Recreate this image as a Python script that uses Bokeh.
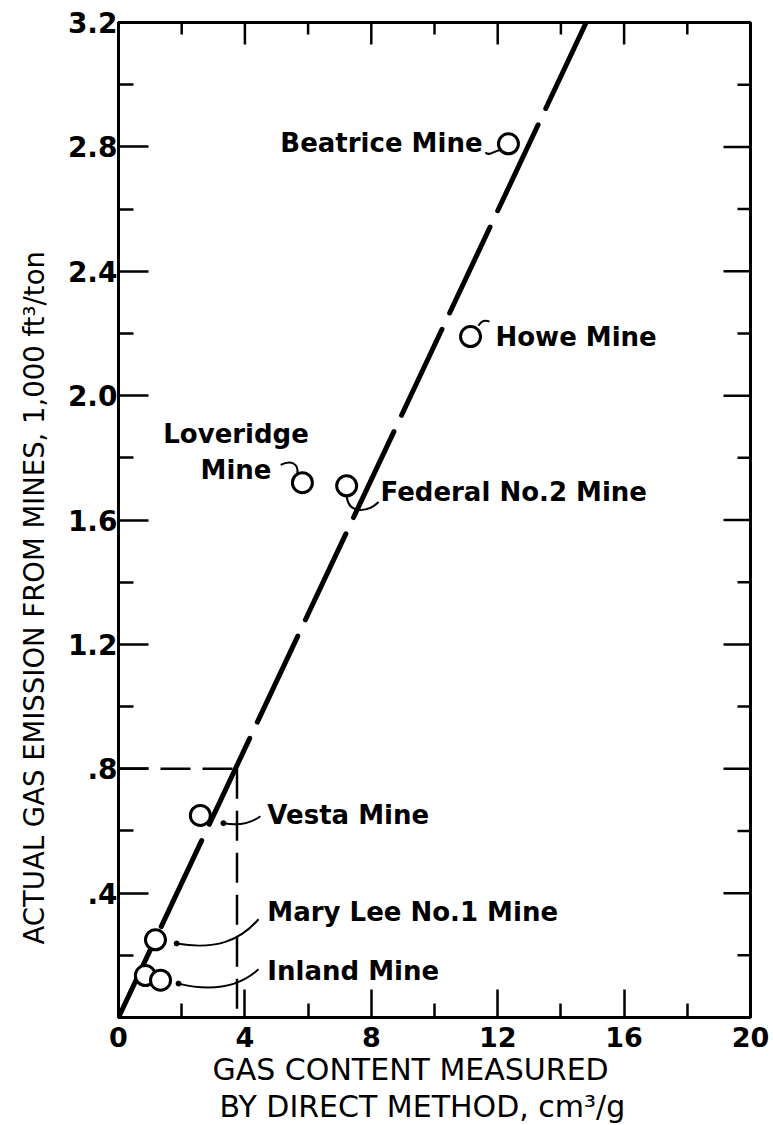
from bokeh.plotting import figure
from bokeh.models import Range1d, FixedTicker, ColumnDataSource, Title
from bokeh.core.properties import value
from bokeh.embed import file_html
from bokeh.resources import INLINE

# ---- data ----
x_ticks = [0, 4, 8, 12, 16, 20]
x_tick_labels = ["0", "4", "8", "12", "16", "20"]
x_minor = [2, 6, 10, 14, 18]
y_ticks = [0, 0.4, 0.8, 1.2, 1.6, 2.0, 2.4, 2.8, 3.2]
y_tick_labels = ["", ".4", ".8", "1.2", "1.6", "2.0", "2.4", "2.8", "3.2"]
y_minor = [0.2, 0.6, 1.0, 1.4, 1.8, 2.2, 2.6, 3.0]

mine_names = ["Beatrice", "Howe", "Loveridge", "Federal No.2", "Vesta", "Mary Lee No.1", "Inland", "Inland"]
gas_content = [12.34, 11.14, 5.82, 7.22, 2.59, 1.17, 0.85, 1.33]
gas_emission = [2.81, 2.19, 1.72, 1.71, 0.65, 0.25, 0.135, 0.12]

fit_x = [14.8, 0.0]
fit_y = [3.2, 0.0]
guide_x = 3.75
guide_y = 0.8

label_text = ["Beatrice Mine", "Howe Mine", "Loveridge\nMine", "Federal No.2 Mine",
              "Vesta Mine", "Mary Lee No.1 Mine", "Inland Mine"]
label_x = [11.52, 11.93, 3.72, 8.29, 4.71, 4.71, 4.71]
label_y = [2.814, 2.19, 1.82, 1.69, 0.65, 0.338, 0.151]
label_align = ["right", "left", "center", "left", "left", "left", "left"]

leader_x0 = [11.61, 11.39, 5.13, 7.22, 3.32, 1.84, 1.90]
leader_y0 = [2.782, 2.225, 1.777, 1.674, 0.625, 0.238, 0.109]
leader_cx0 = [11.74, 11.49, 5.44, 7.31, 3.86, 3.07, 3.07]
leader_cy0 = [2.766, 2.241, 1.793, 1.616, 0.615, 0.216, 0.080]
leader_cx1 = [11.96, 11.61, 5.70, 7.91, 4.24, 3.86, 3.86]
leader_cy1 = [2.795, 2.244, 1.784, 1.626, 0.628, 0.248, 0.103]
leader_x1 = [12.12, 11.74, 5.66, 8.23, 4.49, 4.43, 4.43]
leader_y1 = [2.788, 2.238, 1.751, 1.658, 0.647, 0.316, 0.155]

FONT = value("DejaVu Sans")

X0, X1, Y0, Y1 = 0, 20, 0, 3.2
W, H = 772, 1123
ML, MR, MT, MB = 118, 22, 22, 106
px_x = (W - ML - MR) / (X1 - X0)
px_y = (H - MT - MB) / (Y1 - Y0)

p = figure(width=W, height=H, output_backend="svg", toolbar_location=None,
           x_range=Range1d(X0, X1), y_range=Range1d(Y0, Y1),
           min_border_left=ML, min_border_right=MR, min_border_top=MT, min_border_bottom=MB)
p.grid.visible = False
p.outline_line_color = "black"
p.outline_line_width = 3
p.background_fill_color = "white"
p.border_fill_color = "white"


def style_axis(ax, tin, minin):
    ax.axis_line_width = 3
    ax.axis_line_color = "black"
    ax.major_tick_line_width = 2.5
    ax.minor_tick_line_width = 2.5
    ax.major_tick_line_color = "black"
    ax.minor_tick_line_color = "black"
    ax.major_tick_in = tin
    ax.major_tick_out = 0
    ax.minor_tick_in = minin
    ax.minor_tick_out = 0
    ax.major_label_text_font = "DejaVu Sans"
    ax.major_label_text_font_style = "bold"
    ax.major_label_text_color = "black"
    ax.major_label_text_font_size = "27px"


xb = p.xaxis[0]
xb.ticker = FixedTicker(ticks=x_ticks, minor_ticks=x_minor)
xb.major_label_overrides = {t: l for t, l in zip(x_ticks, x_tick_labels)}
style_axis(xb, 28, 14)
xb.major_label_standoff = 9

yl = p.yaxis[0]
yl.ticker = FixedTicker(ticks=y_ticks, minor_ticks=y_minor)
yl.major_label_overrides = {t: l for t, l in zip(y_ticks, y_tick_labels)}
style_axis(yl, 30, 15)
yl.major_label_text_font_size = "28px"
yl.major_label_standoff = 1

# inward ticks on the top and right frame edges
p.segment(x0=x_ticks, y0=[Y1] * len(x_ticks), x1=x_ticks, y1=[Y1 - 22 / px_y] * len(x_ticks),
          line_color="black", line_width=2.5)
p.segment(x0=x_minor, y0=[Y1] * len(x_minor), x1=x_minor, y1=[Y1 - 12 / px_y] * len(x_minor),
          line_color="black", line_width=2.5)
p.segment(x0=[X1] * len(y_ticks), y0=y_ticks, x1=[X1 - 27 / px_x] * len(y_ticks), y1=y_ticks,
          line_color="black", line_width=2.5)
p.segment(x0=[X1] * len(y_minor), y0=y_minor, x1=[X1 - 13 / px_x] * len(y_minor), y1=y_minor,
          line_color="black", line_width=2.5)

# guide lines
p.line([0, guide_x], [guide_y, guide_y], line_color="black", line_width=2.5, line_dash="30 12")
p.line([guide_x, guide_x], [guide_y, 0], line_color="black", line_width=2.5, line_dash="30 12")

# fitted line
p.line(fit_x, fit_y, line_color="black", line_width=5, line_dash="95 18", line_cap="round")

# leaders
p.bezier(x0=leader_x0, y0=leader_y0, x1=leader_x1, y1=leader_y1,
         cx0=leader_cx0, cy0=leader_cy0, cx1=leader_cx1, cy1=leader_cy1,
         line_color="black", line_width=2)
p.scatter(leader_x0[4:], leader_y0[4:], size=5, color="black")

# points
p.scatter(gas_content, gas_emission, size=20, marker="circle",
          fill_color="white", line_color="black", line_width=3)

# mine labels
src = ColumnDataSource(dict(x=label_x, y=label_y, text=label_text, align=label_align))
p.text(x="x", y="y", text="text", source=src, text_align="align", text_baseline="middle",
       text_font=FONT, text_font_size="26px", text_font_style="bold", text_color="black",
       text_line_height=1.2)

# axis titles
p.add_layout(Title(text="ACTUAL GAS EMISSION FROM MINES, 1,000 ft\u00b3/ton", align="left",
                   offset=73, standoff=29, text_font="DejaVu Sans", text_font_size="27.5px",
                   text_font_style="normal", text_color="black"), "left")
p.add_layout(Title(text="GAS CONTENT MEASURED", align="left", offset=94, standoff=0,
                   text_font="DejaVu Sans", text_font_size="30px",
                   text_font_style="normal", text_color="black"), "below")
p.add_layout(Title(text="BY DIRECT METHOD, cm\u00b3/g", align="left", offset=101, standoff=0,
                   text_font="DejaVu Sans", text_font_size="30px",
                   text_font_style="normal", text_color="black"), "below")

open("out.html", "w").write(file_html(p, INLINE))
